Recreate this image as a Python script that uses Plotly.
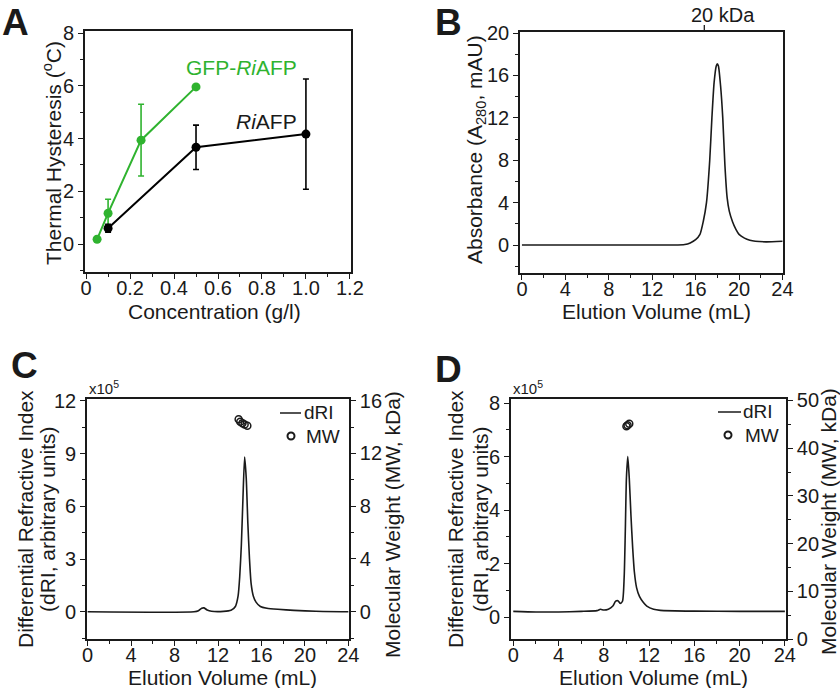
import plotly.graph_objects as go

W, H = 840, 688
FONT = "Liberation Sans, Arial, sans-serif"
GREEN = "#2fb32f"
INK = "#1a1a1a"

# ---------------- Panel A data ----------------
gfp_conc = [0.05, 0.1, 0.25, 0.5]
gfp_th = [0.18, 1.17, 3.94, 5.96]
gfp_err = [0.0, 0.53, 1.36, 0.0]
ri_conc = [0.1, 0.5, 1.0]
ri_th = [0.6, 3.67, 4.17]
ri_err = [0.15, 0.84, 2.09]

# ---------------- Panel B data ----------------
b_vol = [0, 4, 8, 12, 14, 15, 15.5, 16, 16.4, 16.7, 17.0, 17.3, 17.5, 17.7, 17.9, 18.0,
         18.1, 18.3, 18.5, 18.7, 18.9, 19.1, 19.4, 19.7, 20.0, 20.5, 21.0, 21.5, 22.5, 24]
b_abs = [0, 0, 0, 0, 0, 0.05, 0.2, 0.5, 1.0, 2.2, 4.0, 8.0, 12.0, 15.3, 16.9, 17.1,
         16.9, 15.0, 12.0, 7.5, 4.5, 3.2, 2.2, 1.5, 1.0, 0.65, 0.45, 0.35, 0.3, 0.35]
b_marker_vol = [16.8]
b_marker_text = ["20 kDa"]

# ---------------- Panel C data ----------------
c_vol = [0, 9.8, 10.2, 10.5, 10.7, 11.0, 11.4, 12.5, 13.2, 13.6, 13.85, 14.0, 14.15, 14.3,
         14.45, 14.6, 14.75, 14.9, 15.05, 15.25, 15.5, 15.9, 16.5, 17.5, 19, 21, 24]
c_dri = [0, 0, 0.06, 0.2, 0.22, 0.1, 0.03, 0.02, 0.08, 0.3, 0.9, 2.0, 3.8, 6.5,
         8.8, 7.6, 5.0, 3.0, 1.6, 0.9, 0.55, 0.3, 0.2, 0.14, 0.08, 0.03, 0]
c_mw_vol = [13.9, 14.05, 14.25, 14.45, 14.7]
c_mw = [14.6, 14.4, 14.3, 14.2, 14.1]

# ---------------- Panel D data ----------------
d_vol = [0, 2, 4, 6, 7.4, 7.7, 8.0, 8.4, 8.8, 9.05, 9.25, 9.45, 9.65, 9.8, 9.9, 10.0,
         10.12, 10.25, 10.4, 10.55, 10.7, 10.9, 11.15, 11.5, 11.8, 12.4, 13, 16, 20, 24]
d_dri = [0.22, 0.2, 0.2, 0.22, 0.25, 0.3, 0.27, 0.3, 0.42, 0.6, 0.62, 0.52, 0.6, 1.5, 3.2, 5.2,
         6.0, 5.2, 3.8, 2.6, 1.7, 1.1, 0.78, 0.55, 0.42, 0.3, 0.26, 0.23, 0.22, 0.22]
d_mw_vol = [10.0, 10.1, 10.25]
d_mw = [44.6, 44.8, 45.1]


def px_x(p):
    return p / W


def px_y(p):
    return 1 - p / H


fig = go.Figure()

# Panel A
fig.add_trace(go.Scatter(x=gfp_conc, y=gfp_th, mode="lines+markers",
                         line=dict(color=GREEN, width=2),
                         marker=dict(color=GREEN, size=9),
                         error_y=dict(type="data", array=gfp_err, color=GREEN, thickness=1.6, width=3),
                         xaxis="x", yaxis="y", showlegend=False))
fig.add_trace(go.Scatter(x=ri_conc, y=ri_th, mode="lines+markers",
                         line=dict(color="black", width=2),
                         marker=dict(color="black", size=9),
                         error_y=dict(type="data", array=ri_err, color="black", thickness=1.6, width=3),
                         xaxis="x", yaxis="y", showlegend=False))

# Panel B
fig.add_trace(go.Scatter(x=b_vol, y=b_abs, mode="lines",
                         line=dict(color=INK, width=1.6, shape="spline", smoothing=0.6),
                         xaxis="x2", yaxis="y2", showlegend=False))

# Panel C
fig.add_trace(go.Scatter(x=c_vol, y=c_dri, mode="lines", name="dRI",
                         line=dict(color=INK, width=1.6, shape="spline", smoothing=0.6),
                         xaxis="x3", yaxis="y3", showlegend=False))
fig.add_trace(go.Scatter(x=c_mw_vol, y=c_mw, mode="markers", name="MW",
                         marker=dict(symbol="circle-open", color=INK, size=7, line=dict(width=1.5)),
                         xaxis="x3", yaxis="y4", showlegend=False))

# Panel D
fig.add_trace(go.Scatter(x=d_vol, y=d_dri, mode="lines", name="dRI",
                         line=dict(color=INK, width=1.6, shape="spline", smoothing=0.6),
                         xaxis="x4", yaxis="y5", showlegend=False))
fig.add_trace(go.Scatter(x=d_mw_vol, y=d_mw, mode="markers", name="MW",
                         marker=dict(symbol="circle-open", color=INK, size=7, line=dict(width=1.5)),
                         xaxis="x4", yaxis="y6", showlegend=False))

TICK = 20
TITLE = 21
tickfont = dict(family=FONT, size=TICK, color=INK)


def ax(**kw):
    base = dict(showline=True, linecolor=INK, linewidth=1.6, ticks="outside", ticklen=5,
                tickwidth=1.3, tickcolor=INK, showgrid=False, zeroline=False,
                tickfont=tickfont, fixedrange=True, automargin=False)
    base.update(kw)
    return base


def xax(**kw):
    return ax(ticklabelstandoff=-8, **kw)


def minor(d):
    return dict(ticks="outside", ticklen=3, dtick=d, tick0=0, tickcolor=INK)


domA_x = [px_x(85), px_x(351)]
domA_y = [px_y(272), px_y(31)]
domB_x = [px_x(520), px_x(783)]
domB_y = [px_y(273), px_y(32)]
domC_x = [px_x(87), px_x(349)]
domC_y = [px_y(639), px_y(399)]
domD_x = [px_x(511), px_x(786)]
domD_y = [px_y(639), px_y(399)]

fig.update_layout(
    template="none",
    width=W, height=H, autosize=False,
    margin=dict(l=0, r=0, t=0, b=0, pad=0, autoexpand=False),
    paper_bgcolor="white", plot_bgcolor="white",
    font=dict(family=FONT, color=INK),
    showlegend=False,
    xaxis=xax(domain=domA_x, anchor="y", range=[-0.005, 1.205], mirror=True,
              tickvals=[0, 0.2, 0.4, 0.6, 0.8, 1.0, 1.2],
              ticktext=["0", "0.2", "0.4", "0.6", "0.8", "1.0", "1.2"],
              minor=minor(0.1)),
    yaxis=ax(domain=domA_y, anchor="x", range=[-1.06, 8.08], mirror=True,
             tickvals=[0, 2, 4, 6, 8], minor=minor(1)),
    xaxis2=xax(domain=domB_x, anchor="y2", range=[-0.18, 24.05], mirror=True,
               tickvals=[0, 4, 8, 12, 16, 20, 24], minor=minor(2)),
    yaxis2=ax(domain=domB_y, anchor="x2", range=[-2.64, 20.1], mirror=True,
              tickvals=[0, 4, 8, 12, 16, 20], minor=minor(2)),
    xaxis3=xax(domain=domC_x, anchor="y3", range=[-0.06, 24.06], mirror=True,
               tickvals=[0, 4, 8, 12, 16, 20, 24], minor=minor(2)),
    yaxis3=ax(domain=domC_y, anchor="x3", range=[-1.55, 12.1],
              tickvals=[0, 3, 6, 9, 12], minor=minor(1.5)),
    yaxis4=ax(overlaying="y3", anchor="x3", side="right", range=[-2.07, 16.13],
              tickvals=[0, 4, 8, 12, 16], minor=minor(2)),
    xaxis4=xax(domain=domD_x, anchor="y5", range=[-0.2, 24.1], mirror=True,
               tickvals=[0, 4, 8, 12, 16, 20, 24], minor=minor(2)),
    yaxis5=ax(domain=domD_y, anchor="x4", range=[-0.81, 8.15],
              tickvals=[0, 2, 4, 6, 8], minor=minor(1)),
    yaxis6=ax(overlaying="y5", anchor="x4", side="right", range=[0, 50.3],
              tickvals=[0, 10, 20, 30, 40, 50], minor=minor(5)),
)

anns = []


def text(x, y, t, size=TITLE, angle=0, color=INK, xanchor="center", yanchor="middle", bold=False):
    anns.append(dict(x=px_x(x), y=px_y(y), xref="paper", yref="paper",
                     text=("<b>%s</b>" % t) if bold else t,
                     showarrow=False, textangle=angle, xanchor=xanchor, yanchor=yanchor,
                     font=dict(family=FONT, size=size, color=color)))


# panel letters
text(0, 0, "A", size=37, xanchor="left", yanchor="top", bold=True)
text(433, 0, "B", size=37, xanchor="left", yanchor="top", bold=True)
text(9, 343, "C", size=37, xanchor="left", yanchor="top", bold=True)
text(433, 347, "D", size=37, xanchor="left", yanchor="top", bold=True)

# Panel A titles & labels
text(214, 311, "Concentration (g/l)")
text(52, 153, "Thermal Hysteresis (<sup>o</sup>C)", angle=-90)
text(299, 67, "GFP-<i>Ri</i>AFP", color=GREEN, xanchor="right")
text(299, 122, "<i>Ri</i>AFP", xanchor="right")

# Panel B titles + top marker label
text(656, 311, "Elution Volume (mL)")
text(476, 150, "Absorbance (A<sub>280</sub>, mAU)", angle=-90)
anns.append(dict(x=b_marker_vol[0], xref="x2", y=px_y(15), yref="paper", text=b_marker_text[0],
                 showarrow=False, xanchor="left", yanchor="middle", xshift=-15,
                 font=dict(family=FONT, size=TICK, color=INK)))

# Panel C titles
text(222, 677, "Elution Volume (mL)")
text(25, 519, "Differential Refractive Index", angle=-90)
text(47, 519, "(dRI, arbitrary units)", angle=-90)
text(392, 525, "Molecular Weight (MW, kDa)", angle=-90)
text(87, 399, "x10<sup>5</sup>", size=15, xanchor="left", yanchor="bottom")

# Panel D titles
text(653, 677, "Elution Volume (mL)")
text(455, 519, "Differential Refractive Index", angle=-90)
text(480, 519, "(dRI, arbitrary units)", angle=-90)
text(828, 522, "Molecular Weight (MW, kDa)", angle=-90)
text(511, 399, "x10<sup>5</sup>", size=15, xanchor="left", yanchor="bottom")

# legends (C and D), drawn as text + glyph shapes
shapes = []


def legend(x_line0, x_line1, y_dri, x_circ, y_mw, x_text):
    shapes.append(dict(type="line", xref="paper", yref="paper",
                       x0=px_x(x_line0), x1=px_x(x_line1), y0=px_y(y_dri), y1=px_y(y_dri),
                       line=dict(color=INK, width=1.5)))
    shapes.append(dict(type="circle", xref="paper", yref="paper",
                       x0=px_x(x_circ - 3.5), x1=px_x(x_circ + 3.5),
                       y0=px_y(y_mw + 3.5), y1=px_y(y_mw - 3.5),
                       line=dict(color=INK, width=2)))
    text(x_text, y_dri, "dRI", size=19, xanchor="left")
    text(x_text + 2, y_mw, "MW", size=19, xanchor="left")


legend(280, 301, 413, 291, 436, 302)
legend(718, 741, 412, 728, 435, 741)

# B top marker tick (at the data position of the 20 kDa standard)
shapes.append(dict(type="line", xref="x2", yref="paper",
                   x0=b_marker_vol[0], x1=b_marker_vol[0], y0=px_y(32), y1=px_y(25),
                   line=dict(color=INK, width=1.3)))

fig.update_layout(annotations=anns, shapes=shapes)

fig.write_html("out.html", config={"displayModeBar": False, "responsive": False},
               post_script="document.body.style.margin='0px';document.body.style.overflow='hidden';")
